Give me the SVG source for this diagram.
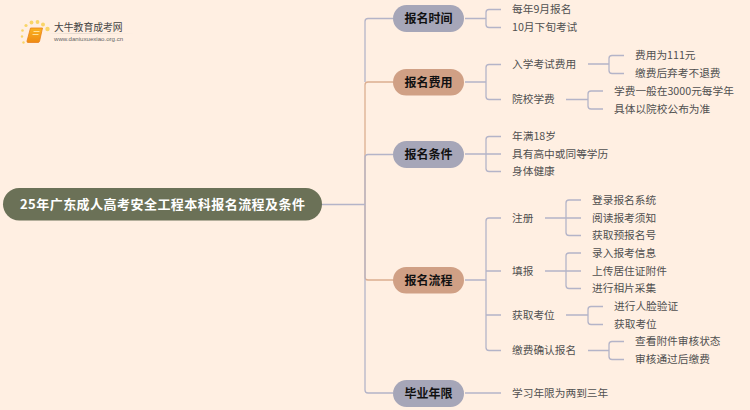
<svg xmlns="http://www.w3.org/2000/svg" width="750" height="410" viewBox="0 0 750 410">
<style>
text{font-family:"Noto Sans CJK SC","Liberation Sans",sans-serif}
.l{font-size:10.7px;fill:#505050;dominant-baseline:central}
.n{font-size:12px;font-weight:700;fill:#111;text-anchor:middle;dominant-baseline:central}
.c{fill:none;stroke:#b4b4c8;stroke-width:1.3}
.o{fill:none;stroke:#dcae90;stroke-width:1.3}
</style>
<defs>
<linearGradient id="fade"><stop offset="0" stop-color="#e2d8ce" stop-opacity="0"/><stop offset="0.3" stop-color="#e2d8ce"/><stop offset="1" stop-color="#e2d8ce" stop-opacity="0"/></linearGradient>
<linearGradient id="book" x1="0" y1="0" x2="0" y2="1"><stop offset="0" stop-color="#fbb321"/><stop offset="1" stop-color="#ee8a12"/></linearGradient>
</defs>
<rect width="750" height="410" fill="#ffefe2"/>
<g id="logo">
<g fill="#f9d568"><circle cx="23.500" cy="42.500" r="1.200"/><circle cx="22" cy="36.500" r="1.200"/><circle cx="22.500" cy="30.500" r="1.300"/><circle cx="26" cy="25.500" r="1.600"/><circle cx="31.500" cy="22.500" r="1.900"/><circle cx="37.500" cy="22" r="1.900"/><circle cx="43" cy="24.500" r="2"/><circle cx="47.500" cy="29" r="2.200"/></g>
<path d="M30.500 28H42.500L39.500 41.500Q39 42.500 38 42.500H28Q26.800 42.500 27 41Z" fill="url(#book)" stroke="#e8801a" stroke-width="0.800"/>
<path d="M33.500 31.500H39.500M32.500 34.500H38.500" stroke="#ffe9a8" stroke-width="0.900"/>
<rect x="48" y="33" width="86" height="1" fill="url(#fade)"/>
<text x="54" y="26.500" font-size="9.800" fill="#444" dominant-baseline="central">大牛教育成考网</text>
<text x="54" y="38.500" font-size="6.100" fill="#666" dominant-baseline="central" style="font-family:'Liberation Sans',sans-serif">www.daniuxuexiao.org.cn</text>
</g>
<g id="connectors">
<path class="o" d="M393 82H368Q365 82 365 85V277Q365 280 368 280H393"/>
<path class="c" d="M322 204.500H365M393 18.500H368Q365 18.500 365 21.500V82"/>
<path class="c" d="M393 154.500H368Q365 154.500 365 157.500V390Q365 393 368 393H393"/>
<path class="c" d="M465 18.500H486M501 9.500H489Q486 9.500 486 12.500V24.500Q486 27.500 489 27.500H501"/>
<path class="c" d="M465 82H486M501 64.500H489Q486 64.500 486 67.500V96.500Q486 99.500 489 99.500H501"/>
<path class="c" d="M588 64H609M624 55.500H612Q609 55.500 609 58.500V70.500Q609 73.500 612 73.500H624"/>
<path class="c" d="M566 99.500H588M603 91H591Q588 91 588 94V106Q588 109 591 109H603"/>
<path class="c" d="M465 154H486M501 136.500H489Q486 136.500 486 139.500V168.500Q486 171.500 489 171.500H501M486 154H501"/>
<path class="c" d="M465 280H486M501 218H489Q486 218 486 221V347.500Q486 350.500 489 350.500H501M486 271H501M486 315H501"/>
<path class="c" d="M545 218H581M581 200H569Q566 200 566 203V232.500Q566 235.500 569 235.500H581"/>
<path class="c" d="M545 271H581M581 253H569Q566 253 566 256V285.500Q566 288.500 569 288.500H581"/>
<path class="c" d="M566 315H588M603 306.500H591Q588 306.500 588 309.500V321.500Q588 324.500 591 324.500H603"/>
<path class="c" d="M588 350.500H609M624 341.500H612Q609 341.500 609 344.500V356.500Q609 359.500 612 359.500H624"/>
<path class="c" d="M465 393H501"/>
</g>
<g id="root"><rect x="3" y="188" width="319" height="32.500" rx="16.200" fill="#6b7157"/><text x="162.500" y="203" font-size="13px" font-weight="700" fill="#fff" text-anchor="middle" dominant-baseline="central" textLength="285">25年广东成人高考安全工程本科报名流程及条件</text></g>
<g id="n1"><rect x="393" y="5" width="71" height="27" rx="13.500" fill="#a6a6b8"/><text class="n" x="428.500" y="17.500">报名时间</text></g>
<g id="n2"><rect x="393" y="69" width="71" height="26.500" rx="13.200" fill="#d0a085"/><text class="n" x="428.500" y="81">报名费用</text></g>
<g id="n3"><rect x="393" y="141" width="71" height="27" rx="13.500" fill="#a6a6b8"/><text class="n" x="428.500" y="153.500">报名条件</text></g>
<g id="n4"><rect x="393" y="267" width="71" height="26.500" rx="13.200" fill="#d0a085"/><text class="n" x="428.500" y="279">报名流程</text></g>
<g id="n5"><rect x="393" y="380" width="71" height="27" rx="13.500" fill="#a6a6b8"/><text class="n" x="428.500" y="392.500">毕业年限</text></g>
<g id="leaves">
<text class="l" x="512" y="8.500">每年9月报名</text>
<text class="l" x="512" y="26.500">10月下旬考试</text>
<text class="l" x="512" y="63.500">入学考试费用</text>
<text class="l" x="635" y="54.500">费用为111元</text>
<text class="l" x="635" y="72.500">缴费后弃考不退费</text>
<text class="l" x="512" y="98.500">院校学费</text>
<text class="l" x="614" y="90">学费一般在3000元每学年</text>
<text class="l" x="614" y="108">具体以院校公布为准</text>
<text class="l" x="512" y="135.500">年满18岁</text>
<text class="l" x="512" y="153">具有高中或同等学历</text>
<text class="l" x="512" y="170.500">身体健康</text>
<text class="l" x="512" y="217">注册</text>
<text class="l" x="592" y="199">登录报名系统</text>
<text class="l" x="592" y="217">阅读报考须知</text>
<text class="l" x="592" y="234.500">获取预报名号</text>
<text class="l" x="512" y="270">填报</text>
<text class="l" x="592" y="252">录入报考信息</text>
<text class="l" x="592" y="270">上传居住证附件</text>
<text class="l" x="592" y="287.500">进行相片采集</text>
<text class="l" x="512" y="314">获取考位</text>
<text class="l" x="614" y="305.500">进行人脸验证</text>
<text class="l" x="614" y="323.500">获取考位</text>
<text class="l" x="512" y="349.500">缴费确认报名</text>
<text class="l" x="635" y="340.500">查看附件审核状态</text>
<text class="l" x="635" y="358.500">审核通过后缴费</text>
<text class="l" x="512" y="392.500">学习年限为两到三年</text>
</g>
</svg>
